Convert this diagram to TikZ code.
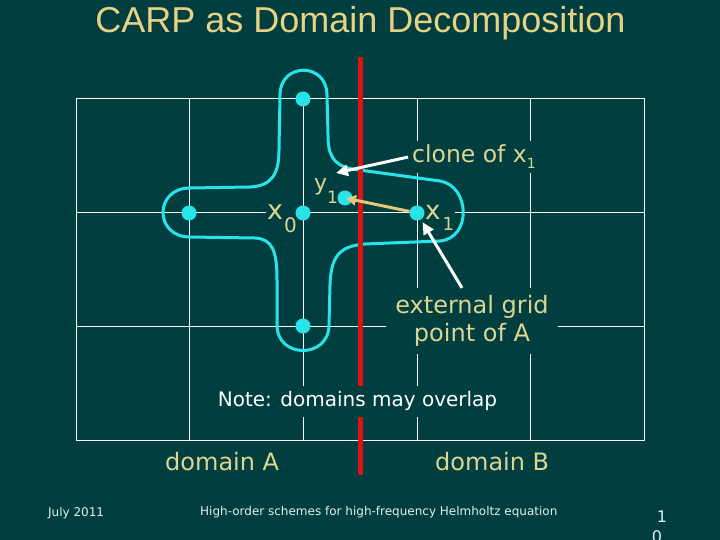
\documentclass[tikz,border=0pt]{standalone}
\usepackage{fontspec}
\setmainfont{DejaVu Sans}
\newfontfamily\titlefont{Liberation Sans}
\usetikzlibrary{arrows.meta}
\definecolor{bg}{RGB}{0,62,64}
\definecolor{ttl}{RGB}{230,210,130}
\definecolor{lbl}{RGB}{222,212,145}
\definecolor{cy}{RGB}{40,228,232}
\definecolor{rd}{RGB}{222,18,18}
\definecolor{arr}{RGB}{230,200,120}
\definecolor{foot}{RGB}{225,240,240}
\newcommand\fsz[2]{\fontsize{#1}{#2}\selectfont}
\begin{document}
\begin{tikzpicture}[x=1pt,y=-1pt,
  gridline/.style={draw=white, line width=1pt},
  dot/.style={circle, fill=cy, minimum size=15pt, inner sep=0pt},
  lab/.style={text=lbl, fill=bg, inner sep=1pt},
  whitearrow/.style={draw=white, line width=3pt, -{Triangle[length=12pt,width=11pt]}},
  beigearrow/.style={draw=arr, line width=3pt, -{Triangle[length=10pt,width=10pt]}},
  foottext/.style={text=foot, inner sep=0pt, font=\fsz{12}{14}}]
\fill[bg] (0,0) rectangle (720,540);
\clip (0,0) rectangle (720,540);
% title
\node[anchor=base, font=\titlefont\fsz{36}{40}, text=ttl, inner sep=0pt] (title) at (360.5,33) {CARP as Domain Decomposition};
% grid
\draw[gridline] (76,99) rectangle (644,440);
\foreach \gx in {189,303,417,530} \draw[gridline] (\gx,99) -- (\gx,440);
\foreach \gy in {213,326} \draw[gridline] (76,\gy) -- (644,\gy);
% domain A (cross)
\draw[cy, line width=3pt]
  (327,95) -- (328,135) .. controls (328,155) and (333,165) .. (352,169)
  -- (440,181) .. controls (470,186) and (472,238) .. (440,241)
  -- (365,244) .. controls (338,246) and (331,258) .. (330,285)
  -- (329,325) .. controls (329,359) and (277,359) .. (277,325)
  -- (277,280) .. controls (277,250) and (272,239) .. (255,238)
  -- (190,237) .. controls (154,237) and (154,188) .. (190,188)
  -- (250,187) .. controls (270,186) and (279,176) .. (279,150)
  -- (280,95) .. controls (280,62) and (327,62) .. cycle;
% red divide
\draw[rd, line width=5pt] (360,57) -- (360,475);
% labels
\node[lab, anchor=base west, font=\fsz{27}{30}] (x0lab) at (266,220) {x\kern1pt\raisebox{-13pt}{\fsz{20}{24}0}};
\node[lab, anchor=base west, font=\fsz{26}{30}] (x1lab) at (424,220) {x\kern2pt\raisebox{-10pt}{\fsz{18}{20}1}};
\node[text=lbl, anchor=base west, font=\fsz{22}{26}, inner sep=0pt] (y1lab) at (314,191) {y\raisebox{-13pt}{\fsz{17}{20}1}};
\node[lab, anchor=base west, font=\fsz{23.5}{28}, inner sep=4pt] (clone) at (408,163) {clone of x\raisebox{-6pt}{\fsz{14}{16}1}};
\node[lab, align=center, font=\fsz{24}{28.5}, inner xsep=9pt, inner ysep=7pt] (ext) at (472,321) {external grid\\point of A};
\node[fill=bg, text=white, anchor=base, font=\fsz{20}{24}, inner xsep=5pt, inner ysep=6pt] (note) at (357.5,406.7) {Note: domains may overlap};
\node[text=lbl, anchor=base west, font=\fsz{24}{28}, inner sep=0pt] (domA) at (165,470.7) {domain A};
\node[text=lbl, anchor=base west, font=\fsz{24}{28}, inner sep=0pt] (domB) at (435,470.7) {domain B};
% grid points
\node[dot] (ptop) at (303,99) {};
\node[dot] (pleft) at (189,213) {};
\node[dot] (x0) at (303,213) {};
\node[dot] (pbot) at (303,326) {};
\node[dot] (x1) at (417,213) {};
\node[dot] (y1) at (345,198) {};
% arrows
\coordinate (cloneTip) at (336,173);
\draw[whitearrow] (clone.west) -- (cloneTip);
\draw[whitearrow, shorten >=3pt] ([xshift=-10pt]ext.north) -- (x1);
\draw[beigearrow, shorten >=1pt] (x1) -- (y1.center);
% footer
\node[foottext, anchor=base west] (date) at (48,516.5) {July 2011};
\node[foottext, anchor=base west] (foottitle) at (200,515.7) {High-order schemes for high-frequency Helmholtz equation};
\node[text=foot, anchor=base, font=\fsz{16}{20}, inner sep=0pt] (pg1) at (662,522) {1};
\node[text=foot, anchor=base, font=\fsz{16}{20}, inner sep=0pt] (pg0) at (657,542.5) {0};
\end{tikzpicture}
\end{document}
